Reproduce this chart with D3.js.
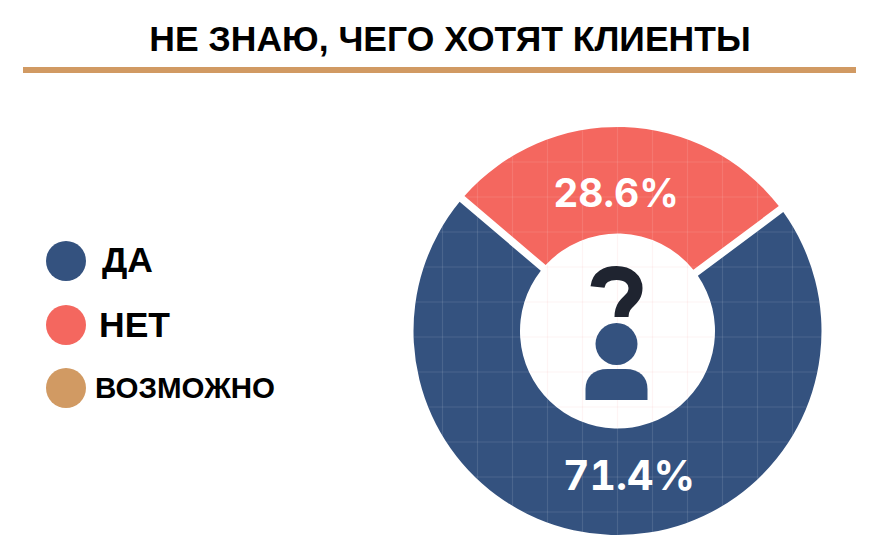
<!DOCTYPE html>
<html>
<head>
<meta charset="utf-8">
<script src="https://cdn.jsdelivr.net/npm/d3@7"></script>
<style>
  html, body { margin: 0; padding: 0; background: #fff; }
  svg { display: block; }
  .value { font-variant-numeric: tabular-nums; }
</style>
</head>
<body>
<script>
var titleText = "НЕ ЗНАЮ, ЧЕГО ХОТЯТ КЛИЕНТЫ";
var categories = ["ДА", "НЕТ", "ВОЗМОЖНО"];
var values = [71.4, 28.6, 0];
var valueLabels = ["71.4%", "28.6%", ""];
var colors = ["#34527f", "#f4675f", "#d19a63"];

var w = 876, h = 555;
var cx = 617.5, cy = 331;
var outerRadius = 204, innerRadius = 97.5;
var labelFont = "'Liberation Sans', Arial, sans-serif";

var svg = d3.select("body").append("svg")
    .attr("width", w)
    .attr("height", h);

// title and rule
svg.append("text")
    .attr("x", 450)
    .attr("y", 51)
    .attr("text-anchor", "middle")
    .attr("font-family", labelFont)
    .attr("font-weight", "bold")
    .attr("font-size", 35.5)
    .attr("fill", "#000")
    .text(titleText);

svg.append("rect")
    .attr("x", 23)
    .attr("y", 67)
    .attr("width", 833)
    .attr("height", 6)
    .attr("fill", colors[2]);

// legend
var legendY = [261, 325, 388];
var legendTextX = [102, 99, 95];
var legendTextY = [272, 337, 398];
var legendSize = [35.5, 35.5, 29.5];

var legend = svg.selectAll("g.legend")
    .data(categories)
    .enter()
    .append("g")
    .attr("class", "legend");

legend.append("circle")
    .attr("cx", 66)
    .attr("cy", function(d, i) { return legendY[i]; })
    .attr("r", 20)
    .attr("fill", function(d, i) { return colors[i]; });

legend.append("text")
    .attr("x", function(d, i) { return legendTextX[i]; })
    .attr("y", function(d, i) { return legendTextY[i]; })
    .attr("font-family", labelFont)
    .attr("font-weight", "bold")
    .attr("font-size", function(d, i) { return legendSize[i]; })
    .attr("fill", "#000")
    .text(function(d) { return d; });

// donut, the ДА slice starts right of the top so НЕТ ends up centred above
var startDeg = 53.3;
var pie = d3.pie()
    .sort(null)
    .startAngle(startDeg * Math.PI / 180)
    .endAngle((startDeg + 360) * Math.PI / 180);

var arc = d3.arc()
    .innerRadius(innerRadius)
    .outerRadius(outerRadius)
    .padAngle(7.5 / outerRadius)
    .padRadius(outerRadius);

var chart = svg.append("g")
    .attr("transform", "translate(" + cx + "," + cy + ")");

var slices = pie(values).filter(function(d) { return d.value > 0; });

chart.selectAll("path.slice")
    .data(slices)
    .enter()
    .append("path")
    .attr("class", "slice")
    .attr("d", arc)
    .attr("fill", function(d) { return colors[d.index]; });

// faint square grid, clipped to the slices' disc
svg.append("clipPath")
    .attr("id", "disc")
    .append("circle")
    .attr("r", outerRadius);

var gridOffsets = d3.range(-6, 7);
var grid = chart.append("g")
    .attr("clip-path", "url(#disc)")
    .attr("stroke", "#fff")
    .attr("stroke-opacity", 0.11)
    .attr("stroke-width", 1.2);

grid.selectAll("line.v")
    .data(gridOffsets)
    .enter()
    .append("line")
    .attr("x1", function(d) { return d * 35; })
    .attr("x2", function(d) { return d * 35; })
    .attr("y1", -outerRadius)
    .attr("y2", outerRadius);

grid.selectAll("line.h")
    .data(gridOffsets)
    .enter()
    .append("line")
    .attr("x1", -outerRadius)
    .attr("x2", outerRadius)
    .attr("y1", function(d) { return 6 + d * 35; })
    .attr("y2", function(d) { return 6 + d * 35; });

// same grid, pink, in the hole
svg.append("clipPath")
    .attr("id", "hole")
    .append("circle")
    .attr("r", innerRadius - 1);

var holeGrid = chart.append("g")
    .attr("clip-path", "url(#hole)")
    .attr("stroke", "#f4675f")
    .attr("stroke-opacity", 0.07)
    .attr("stroke-width", 1.2);

holeGrid.selectAll("line.v")
    .data(gridOffsets)
    .enter()
    .append("line")
    .attr("x1", function(d) { return d * 35; })
    .attr("x2", function(d) { return d * 35; })
    .attr("y1", -innerRadius)
    .attr("y2", innerRadius);

holeGrid.selectAll("line.h")
    .data(gridOffsets)
    .enter()
    .append("line")
    .attr("x1", -innerRadius)
    .attr("x2", innerRadius)
    .attr("y1", function(d) { return 6 + d * 35; })
    .attr("y2", function(d) { return 6 + d * 35; });

// value labels
var valueX = [11.5, -1.5];
var valueY = [159, -124];
var valueSize = [41, 39];

chart.selectAll("text.value")
    .data(slices)
    .enter()
    .append("text")
    .attr("class", "value")
    .attr("x", function(d) { return valueX[d.index]; })
    .attr("y", function(d) { return valueY[d.index]; })
    .attr("text-anchor", "middle")
    .attr("font-family", "Inter, sans-serif")
    .attr("font-weight", "bold")
    .attr("font-size", function(d) { return valueSize[d.index]; })
    .attr("fill", "#fff")
    .text(function(d) { return valueLabels[d.index]; });

// person with question mark
chart.append("path")
    .attr("d", "M-20,-44 C-19,-54 -11,-58 -1,-58 C11,-58 18,-51 18,-43 C18,-33 11,-31 7,-25 C5,-22 4,-19 4,-14")
    .attr("fill", "none")
    .attr("stroke", "#1f2430")
    .attr("stroke-width", 14);

chart.append("circle")
    .attr("cx", -1)
    .attr("cy", 13)
    .attr("r", 21)
    .attr("fill", colors[0]);

chart.append("path")
    .attr("d", "M-32,69 L-32,58 C-32,46 -24,38 -10,38 L8,38 C22,38 30,46 30,58 L30,69 Z")
    .attr("fill", colors[0]);
</script>
</body>
</html>
